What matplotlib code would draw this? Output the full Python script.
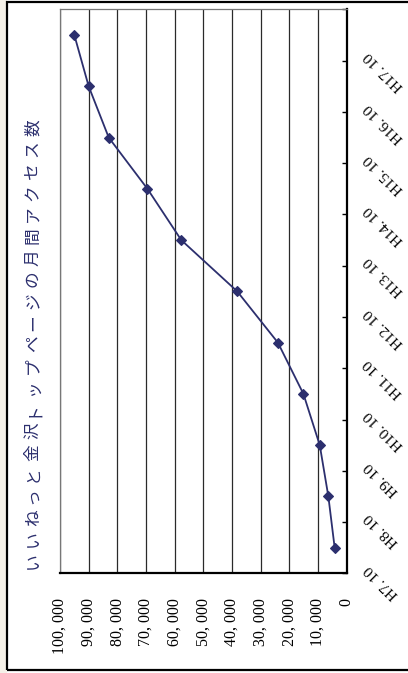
import matplotlib
matplotlib.use("Agg")
import matplotlib.pyplot as plt
import matplotlib.transforms as mtransforms
from matplotlib.patches import Rectangle
import numpy as np

# ---- data ----
categories = ["H7. 10", "H8. 10", "H9. 10", "H10. 10", "H11. 10", "H12. 10",
              "H13. 10", "H14. 10", "H15. 10", "H16. 10", "H17. 10"]
access = [4200, 6400, 9400, 15100, 24000, 38200, 57700, 69500, 83000, 90000, 95000]
value_ticks = [0, 10000, 20000, 30000, 40000, 50000, 60000, 70000, 80000, 90000, 100000]
value_labels = ["0", "10, 000", "20, 000", "30, 000", "40, 000", "50, 000",
                "60, 000", "70, 000", "80, 000", "90, 000", "100, 000"]
title = "いいねっと金沢トップページの月間アクセス数"

W, H = 408, 673
DPI = 100
fig = plt.figure(figsize=(W / DPI, H / DPI), dpi=DPI)
fig.patch.set_facecolor("white")

navy = "#2c2f6e"
serif = ["Liberation Serif", "DejaVu Serif"]

# left textured margin and frame
fig.patches.append(Rectangle((0, 0), 7 / W, 1, transform=fig.transFigure,
                             facecolor="#f5f1e8", edgecolor="none", zorder=0))
fig.patches.append(Rectangle((7 / W, 3 / H), 1.2, 1 - 4.5 / H, transform=fig.transFigure,
                             facecolor="none", edgecolor="black", lw=1.6, zorder=5))

left, right, top, bottom = 60, 346.7, 9.4, 573.3
ax = fig.add_axes([left / W, 1 - bottom / H, (right - left) / W, (bottom - top) / H])

n = len(categories)
idx = np.arange(n)
ax.plot(access, idx, color=navy, lw=1.3, marker="D", ms=4.6,
        mfc=navy, mec=navy, mew=0.8, zorder=3)

ax.set_xlim(100000, 0)
ax.set_ylim(-0.5, n - 0.5)

# gridlines
ax.set_xticks(value_ticks)
ax.grid(axis="x", color="#2a2a2a", lw=0.9)
ax.grid(axis="y", visible=False)
ax.tick_params(axis="x", length=0, labelbottom=False)

# category axis ticks on right (boundaries), pointing inward
ax.yaxis.tick_right()
ax.set_yticks(np.arange(-0.5, n, 1.0))
ax.set_yticklabels([])
ax.tick_params(axis="y", direction="in", length=3.8, width=1.0, color="black")

for s in ["top", "left"]:
    ax.spines[s].set_color("#777777")
    ax.spines[s].set_linewidth(0.9)
for s in ["right", "bottom"]:
    ax.spines[s].set_color("black")
    ax.spines[s].set_linewidth(1.6)

# value labels (below plot, rotated)
off_v = mtransforms.ScaledTranslation(0, -25 / DPI, fig.dpi_scale_trans)
for v, lab in zip(value_ticks, value_labels):
    ax.text(v, 0, lab, transform=ax.get_xaxis_transform() + off_v,
            rotation=90, ha="center", va="top", fontsize=11.5,
            family=serif, color="black")

# category labels (right of plot, rotated)
off_c = mtransforms.ScaledTranslation(20 / DPI, -19 / DPI, fig.dpi_scale_trans)
for i, lab in enumerate(categories):
    ax.text(1, i, lab, transform=ax.get_yaxis_transform() + off_c,
            rotation=135, rotation_mode="anchor", ha="right", va="center",
            fontsize=11, family=serif, color="black")

# title, rotated with wide letter spacing
ys = np.linspace(560.5, 127.5, len(title))
for ch, y in zip(title, ys):
    fig.text(33 / W, 1 - y / H, ch, rotation=90, ha="center", va="center",
             fontsize=12, color=navy,
             family=["Noto Sans CJK JP", "DejaVu Sans"])

fig.savefig("out.png", dpi=DPI)
